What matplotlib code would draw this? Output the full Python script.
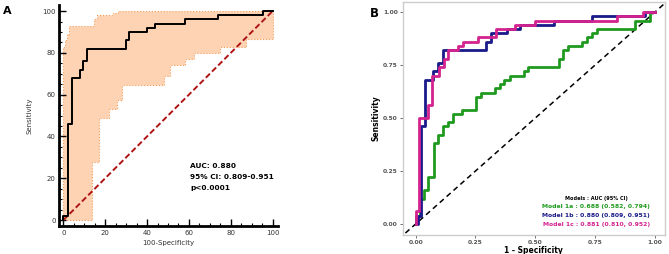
import matplotlib
matplotlib.use("Agg")
import matplotlib.pyplot as plt
import numpy as np

# --- Panel A: ROC of model 1b with 95% CI band (scale 0-100) ---
roc_x = [0, 0, 2, 4, 8, 9.5, 11.5, 30, 31.5, 40, 44, 58, 74, 95.5, 100]
roc_y = [0, 2, 46, 68, 72, 76, 82, 86, 90, 92, 94, 96, 98, 100, 100]

ci_upper_x = [0, 0, 0.8, 1.6, 2.7, 14.8, 15.9, 23.6, 26.3, 100]
ci_upper_y = [0, 83, 86, 89, 93, 96, 98, 99, 100, 100]
ci_lower_x = [0, 13.5, 17, 22, 25.5, 28, 48, 51, 58, 62.5, 75, 87.5, 100]
ci_lower_y = [0, 28, 49, 53, 57.5, 64.5, 69, 74, 77, 80, 83, 86.5, 100]

auc_text = ["AUC: 0.880", "95% CI: 0.809-0.951", "p<0.0001"]

# --- Panel B: three models (scale 0-1) ---
m1a_x = [0, 0, 0.02, 0.036, 0.053, 0.075, 0.095, 0.114, 0.135, 0.156, 0.195,
         0.254, 0.275, 0.332, 0.351, 0.371, 0.393, 0.452, 0.471, 0.597, 0.616,
         0.636, 0.697, 0.717, 0.736, 0.756, 0.916, 0.98, 1.0]
m1a_y = [0, 0.04, 0.12, 0.16, 0.22, 0.38, 0.42, 0.46, 0.48, 0.52, 0.54,
         0.60, 0.62, 0.64, 0.66, 0.68, 0.70, 0.72, 0.74, 0.78, 0.82,
         0.84, 0.86, 0.88, 0.90, 0.92, 0.96, 1.0, 1.0]
m1b_x = [0, 0.01, 0.022, 0.038, 0.072, 0.095, 0.114, 0.296, 0.314, 0.38, 0.435,
         0.58, 0.735, 0.958, 1.0]
m1b_y = [0, 0.04, 0.46, 0.68, 0.72, 0.76, 0.82, 0.86, 0.90, 0.92, 0.94,
         0.96, 0.98, 1.0, 1.0]
m1c_x = [0, 0, 0.014, 0.05, 0.07, 0.098, 0.117, 0.135, 0.177, 0.198, 0.26,
         0.337, 0.414, 0.498, 0.84, 0.95, 1.0]
m1c_y = [0, 0.06, 0.50, 0.56, 0.70, 0.74, 0.78, 0.82, 0.84, 0.86, 0.88,
         0.92, 0.94, 0.96, 0.98, 1.0, 1.0]

model_names = ["Model 1a", "Model 1b", "Model 1c"]
model_auc = ["0.688 (0.582, 0.794)", "0.880 (0.809, 0.951)", "0.881 (0.810, 0.952)"]
model_colors = ["#1f9a1f", "#1a1a8a", "#d4238f"]


def step_points(xs, ys):
    # post-step vertices: y[i] holds from x[i] to x[i+1]
    px, py = [xs[0]], [ys[0]]
    for i in range(1, len(xs)):
        px += [xs[i], xs[i]]
        py += [ys[i - 1], ys[i]]
    return px, py


fig = plt.figure(figsize=(6.69, 2.54), dpi=100)

# ---------------- Panel A ----------------
axA = fig.add_axes([0.0882, 0.110, 0.327, 0.870])
ux, uy = step_points(ci_upper_x, ci_upper_y)
lx, ly = step_points(ci_lower_x, ci_lower_y)
poly_x = ux + lx[::-1]
poly_y = uy + ly[::-1]
axA.fill(poly_x, poly_y, facecolor="#fdd3b4", edgecolor="#f5a05a",
         linestyle=":", linewidth=0.8, zorder=1)
axA.plot([0, 100], [0, 100], color="#b01515", linestyle="--", linewidth=1.4,
         dashes=(3, 1.5), zorder=2)
axA.step(roc_x, roc_y, where="post", color="black", linewidth=1.4, zorder=3)

axA.set_xlim(-2.1, 102.5)
axA.set_ylim(-2.9, 102.9)
axA.spines["top"].set_visible(False)
axA.spines["right"].set_visible(False)
for s in ["left", "bottom"]:
    axA.spines[s].set_linewidth(2.0)
axA.set_xticks(np.arange(0, 101, 20))
axA.set_yticks(np.arange(0, 101, 20))
axA.set_xticks(np.arange(0, 101, 5), minor=True)
axA.set_yticks(np.arange(0, 101, 5), minor=True)
axA.tick_params(which="major", direction="in", length=5, width=1.0,
                labelsize=5, labelcolor="#333333", pad=2.5)
axA.tick_params(which="minor", direction="in", length=2.5, width=0.8)
axA.set_xlabel("100-Specificity", fontsize=5, color="#333333", labelpad=3)
axA.set_ylabel("Sensitivity", fontsize=5, color="#333333", labelpad=7)
for i, t in enumerate(auc_text):
    axA.text(60.5, 26 - i * 5.3, t, fontsize=5.3, fontweight="bold",
             va="center", ha="left")
fig.text(0.004, 0.955, "A", fontsize=8, fontweight="bold", va="center")

# ---------------- Panel B ----------------
axB = fig.add_axes([0.602, 0.0748, 0.392, 0.917])
axB.plot([-0.1, 1.1], [-0.1, 1.1], color="black", linestyle="--",
         linewidth=1.1, dashes=(3.5, 2.5), zorder=1)
for xs, ys, c in zip([m1a_x, m1b_x, m1c_x], [m1a_y, m1b_y, m1c_y], model_colors):
    axB.step(xs, ys, where="post", color=c, linewidth=2.0, zorder=2)

axB.set_xlim(-0.054, 1.042)
axB.set_ylim(-0.052, 1.047)
for s in axB.spines.values():
    s.set_color("#cccccc")
    s.set_linewidth(1.0)
ticks = [0, 0.25, 0.5, 0.75, 1.0]
tick_lbls = ["0.00", "0.25", "0.50", "0.75", "1.00"]
axB.set_xticks(ticks)
axB.set_xticklabels(tick_lbls)
axB.set_yticks(ticks)
axB.set_yticklabels(tick_lbls)
axB.tick_params(direction="out", length=2, width=0.6, color="#555555",
                labelsize=4.3, labelcolor="#555555", pad=1.5)
for lbl in axB.get_xticklabels() + axB.get_yticklabels():
    lbl.set_fontweight("bold")
axB.set_xlabel("1 - Specificity", fontsize=5.5, fontweight="bold", labelpad=0.5)
axB.set_ylabel("Sensitivity", fontsize=5.5, fontweight="bold", labelpad=2)

axB.text(0.755, 0.122, "Models : AUC (95% CI)", fontsize=3.6, fontweight="bold",
         ha="center", va="center")
for i, (n, a, c) in enumerate(zip(model_names, model_auc, model_colors)):
    axB.text(0.755, 0.081 - i * 0.041, f"{n} : {a}", fontsize=4.4,
             fontweight="bold", color=c, ha="center", va="center")
fig.text(0.553, 0.945, "B", fontsize=8.5, fontweight="bold", va="center")

fig.savefig("out.png", dpi=100)
